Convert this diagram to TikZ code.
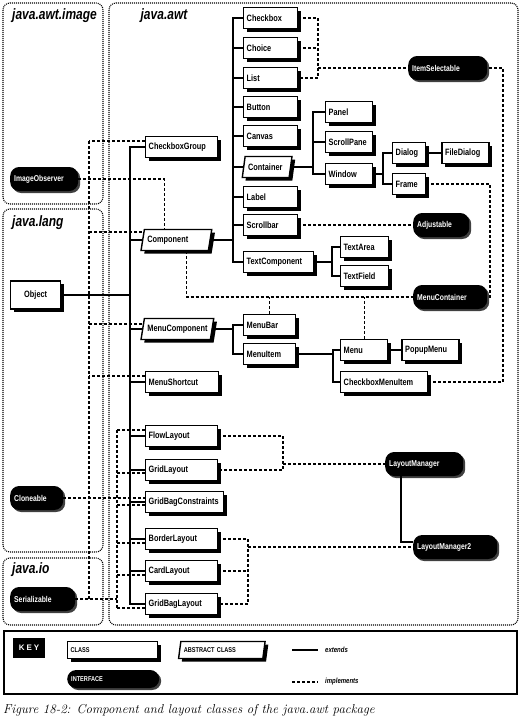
\documentclass[tikz,border=0pt]{standalone}
\usepackage{fontspec}
\usepackage{tikz}
\usetikzlibrary{positioning,shapes.geometric,shadows}
\newfontfamily\lblfont[FakeStretch=0.8]{Liberation Sans}
\newfontfamily\keyfont[LetterSpace=25]{Liberation Sans}

\begin{document}
\begin{tikzpicture}[x=1pt, y=-1pt,
    cls/.style={draw, fill=white, line width=1.4pt, anchor=west,
        minimum height=21pt, inner xsep=3pt, inner ysep=1pt,
        text width=#1, align=left, font=\lblfont\bfseries\fontsize{9.2}{10}\selectfont,
        drop shadow={shadow xshift=3.2pt, shadow yshift=-3.2pt, fill=black, opacity=1}},
    abscls/.style={cls=#1, trapezium, trapezium left angle=72, trapezium right angle=108, trapezium stretches body},
    iface/.style={fill=black, text=white, anchor=west, rounded corners=9pt,
        minimum height=24pt, inner xsep=4pt, text width=#1, align=left,
        font=\lblfont\bfseries\fontsize{8.5}{10}\selectfont,
        drop shadow={shadow xshift=2pt, shadow yshift=-2pt, fill=black!75, opacity=1}},
    ext/.style={line width=1.6pt},
    impl/.style={line width=1.3pt, dash pattern=on 3pt off 2pt},
    pkg/.style={line width=1.1pt, dash pattern=on 1pt off 1pt, rounded corners=7pt},
    pkgtitle/.style={font=\lblfont\bfseries\itshape\fontsize{15}{16}\selectfont, inner sep=0pt},
    keytxt/.style={font=\lblfont\bfseries\itshape\fontsize{7.5}{8}\selectfont, inner sep=1pt, anchor=west}
]
\path[fill=white] (0,0) rectangle (521,720);
\useasboundingbox (0,0) rectangle (521,720);

% Packages
\draw[pkg] (3,3) rectangle (103,204);
\draw[pkg] (3,209) rectangle (103,552);
\draw[pkg] (3,558) rectangle (103,625);
\draw[pkg] (109,3) rectangle (518,625);
\node[pkgtitle, anchor=west] (pkgimage) at (12,16) {java.awt.image};
\node[pkgtitle] (pkgawt) at (164,16) {java.awt};
\node[pkgtitle, anchor=west] (pkglang) at (12,223) {java.lang};
\node[pkgtitle, anchor=west] (pkgio) at (12,570) {java.io};

% java.lang
\node[cls=44, align=center, minimum height=28pt] (Object) at (10,295) {Object};

% First level
\node[cls=66] (CheckboxGroup) at (145,147) {CheckboxGroup};
\node[abscls=58] (Component) at (142,240) {Component};
\node[abscls=60] (MenuComponent) at (142,329) {MenuComponent};
\node[cls=67] (MenuShortcut) at (145,382) {MenuShortcut};
\node[cls=66] (FlowLayout) at (145,436) {FlowLayout};
\node[cls=66] (GridLayout) at (145,470) {GridLayout};
\node[cls=72] (GridBagConstraints) at (145,502) {GridBagConstraints};
\node[cls=66] (BorderLayout) at (145,539) {BorderLayout};
\node[cls=66] (CardLayout) at (145,571) {CardLayout};
\node[cls=66] (GridBagLayout) at (145,604) {GridBagLayout};

% Component subclasses
\node[cls=48] (Checkbox) at (243,18) {Checkbox};
\node[cls=48] (Choice) at (243,48) {Choice};
\node[cls=48] (List) at (243,78) {List};
\node[cls=48] (Button) at (243,107) {Button};
\node[cls=48] (Canvas) at (243,136) {Canvas};
\node[abscls=38] (Container) at (243,167) {Container};
\node[cls=48] (Label) at (243,197) {Label};
\node[cls=48] (Scrollbar) at (243,225) {Scrollbar};
\node[cls=64] (TextComponent) at (243,262) {TextComponent};

% Container subclasses
\node[cls=41] (Panel) at (325,112) {Panel};
\node[cls=41] (ScrollPane) at (325,142) {ScrollPane};
\node[cls=41] (Window) at (325,174) {Window};
\node[cls=27] (Dialog) at (392,153) {Dialog};
\node[cls=27] (Frame) at (392,184) {Frame};
\node[cls=41, right=15pt of Dialog] (FileDialog) {FileDialog};

% TextComponent subclasses
\node[cls=42] (TextArea) at (340,247) {TextArea};
\node[cls=42] (TextField) at (340,276) {TextField};

% MenuComponent subclasses
\node[cls=46] (MenuBar) at (243,325) {MenuBar};
\node[cls=46] (MenuItem) at (243,354) {MenuItem};
\node[cls=41] (Menu) at (340,350) {Menu};
\node[cls=51, right=13pt of Menu] (PopupMenu) {PopupMenu};
\node[cls=81] (CheckboxMenuItem) at (340,382) {CheckboxMenuItem};

% Interfaces
\node[iface=60] (ImageObserver) at (10,179) {ImageObserver};
\node[iface=71] (ItemSelectable) at (408,68) {ItemSelectable};
\node[iface=48] (Adjustable) at (413,225) {Adjustable};
\node[iface=66] (MenuContainer) at (413,297) {MenuContainer};
\node[iface=45] (Cloneable) at (10,498) {Cloneable};
\node[iface=57] (Serializable) at (10,599) {Serializable};
\node[iface=70] (LayoutManager) at (385,464) {LayoutManager};
\node[iface=76] (LayoutManager2) at (413,547) {LayoutManager2};

% Junctions
\coordinate (ot) at (130,295);
\coordinate (cj) at (233,240);
\coordinate (ctj) at (313,167);
\coordinate (wj) at (383,174);
\coordinate (tcj) at (332,262);
\coordinate (mcj) at (233,329);
\coordinate (mij) at (333,354);
\coordinate (isj) at (318,68);
\coordinate (isr) at (503,382);
\coordinate (mcr) at (490,184);
\coordinate (sa) at (89,141);
\coordinate (sc) at (117,430);
\coordinate (sd) at (117,608);
\coordinate (lmj) at (283,464);
\coordinate (lmtwoj) at (248,547);

% Extends
\draw[ext] (Object.east) -- (ot);
\foreach \n in {CheckboxGroup,Component,MenuComponent,MenuShortcut,FlowLayout,GridLayout,GridBagConstraints,BorderLayout,CardLayout,GridBagLayout}
    \draw[ext] (ot) |- (\n.west);
\draw[ext] (Component.east) -- (cj);
\foreach \n in {Checkbox,Choice,List,Button,Canvas,Container,Label,Scrollbar,TextComponent}
    \draw[ext] (cj) |- (\n.west);
\draw[ext] (Container.east) -- (ctj);
\foreach \n in {Panel,ScrollPane,Window}
    \draw[ext] (ctj) |- (\n.west);
\draw[ext] (Window.east) -- (wj);
\foreach \n in {Dialog,Frame}
    \draw[ext] (wj) |- (\n.west);
\draw[ext] (Dialog.east) -- (FileDialog.west);
\draw[ext] (TextComponent.east) -- (tcj);
\foreach \n in {TextArea,TextField}
    \draw[ext] (tcj) |- (\n.west);
\draw[ext] (MenuComponent.east) -- (mcj);
\foreach \n in {MenuBar,MenuItem}
    \draw[ext] (mcj) |- (\n.west);
\draw[ext] (MenuItem.east) -- (mij);
\foreach \n in {Menu,CheckboxMenuItem}
    \draw[ext] (mij) |- (\n.west);
\draw[ext] (Menu.east) -- (PopupMenu.west);
\draw[ext] ([xshift=-23pt]LayoutManager.south) |- ([yshift=5pt]LayoutManager2.west);

% Implements
\draw[impl] (Checkbox.east) -| (List.east -| isj) -- (List.east);
\draw[impl] (Choice.east) -- (Choice.east -| isj);
\draw[impl] (isj) -- (ItemSelectable.west);
\draw[impl] (CheckboxMenuItem.east) -- (isr) |- (ItemSelectable.east);
\draw[impl] (Frame.east) -- (mcr) |- (MenuContainer.east);
\draw[impl] (Scrollbar.east) -- (Adjustable.west);
\draw[impl] ([xshift=10pt]Component.south) |- (MenuContainer.west);
\draw[impl] (MenuBar.north) -- (MenuBar.north |- MenuContainer.west);
\draw[impl] (Menu.north) -- (Menu.north |- MenuContainer.west);
\draw[impl] (ImageObserver.east) -| ([xshift=-12pt]Component.north);
\draw[impl] (sa) -- (Serializable.east -| sa);
\foreach \n/\s in {CheckboxGroup/6,Component/8,MenuComponent/5,MenuShortcut/6}
    \draw[impl] ([yshift=\s pt]\n.west) -- ([yshift=\s pt]\n.west -| sa);
\draw[impl] (sc) -- (sd);
\draw[impl] (Serializable.east) -- (Serializable.east -| sd);
\foreach \n/\s in {FlowLayout/6,GridLayout/-3,GridBagConstraints/-3,BorderLayout/-4,CardLayout/-4,GridBagLayout/-4}
    \draw[impl] ([yshift=\s pt]\n.west) -- ([yshift=\s pt]\n.west -| sc);
\draw[impl] (Cloneable.east) -- (Cloneable.east -| GridBagConstraints.west);
\draw[impl] (FlowLayout.east) -| (GridLayout.east -| lmj) -- (GridLayout.east);
\draw[impl] (lmj) -- (LayoutManager.west);
\draw[impl] (BorderLayout.east) -| (GridBagLayout.east -| lmtwoj) -- (GridBagLayout.east);
\draw[impl] (CardLayout.east) -- (CardLayout.east -| lmtwoj);
\draw[impl] (lmtwoj) -- (LayoutManager2.west);

% Key
\draw[line width=1.2pt] (4,631) rectangle (517,694);
\node[fill=black, text=white, minimum width=32pt, minimum height=20pt, font=\keyfont\bfseries\fontsize{8}{9}\selectfont] (keylbl) at (29,648) {KEY};
\node[cls=84, minimum height=17pt, font=\lblfont\bfseries\fontsize{7}{8}\selectfont] (keyclass) at (67,650) {CLASS};
\node[abscls=76, minimum height=17pt, font=\lblfont\bfseries\fontsize{7}{8}\selectfont] (keyabs) at (179,650) {ABSTRACT CLASS};
\node[iface=84, minimum height=18pt, font=\lblfont\bfseries\fontsize{7}{8}\selectfont] (keyiface) at (67,679) {INTERFACE};
\coordinate (extA) at (292,650);
\coordinate (extB) at (318,650);
\draw[ext] (extA) -- (extB);
\node[keytxt] (extlbl) at (324,650) {extends};
\coordinate (implA) at (292,682);
\coordinate (implB) at (318,682);
\draw[impl] (implA) -- (implB);
\node[keytxt] (impllbl) at (324,682) {implements};

% Caption
\node[anchor=west, inner sep=0pt, font=\itshape\fontsize{12.9}{14}\selectfont] (caption) at (3,710) {Figure 18-2: Component and layout classes of the java.awt package};

\end{tikzpicture}
\end{document}
